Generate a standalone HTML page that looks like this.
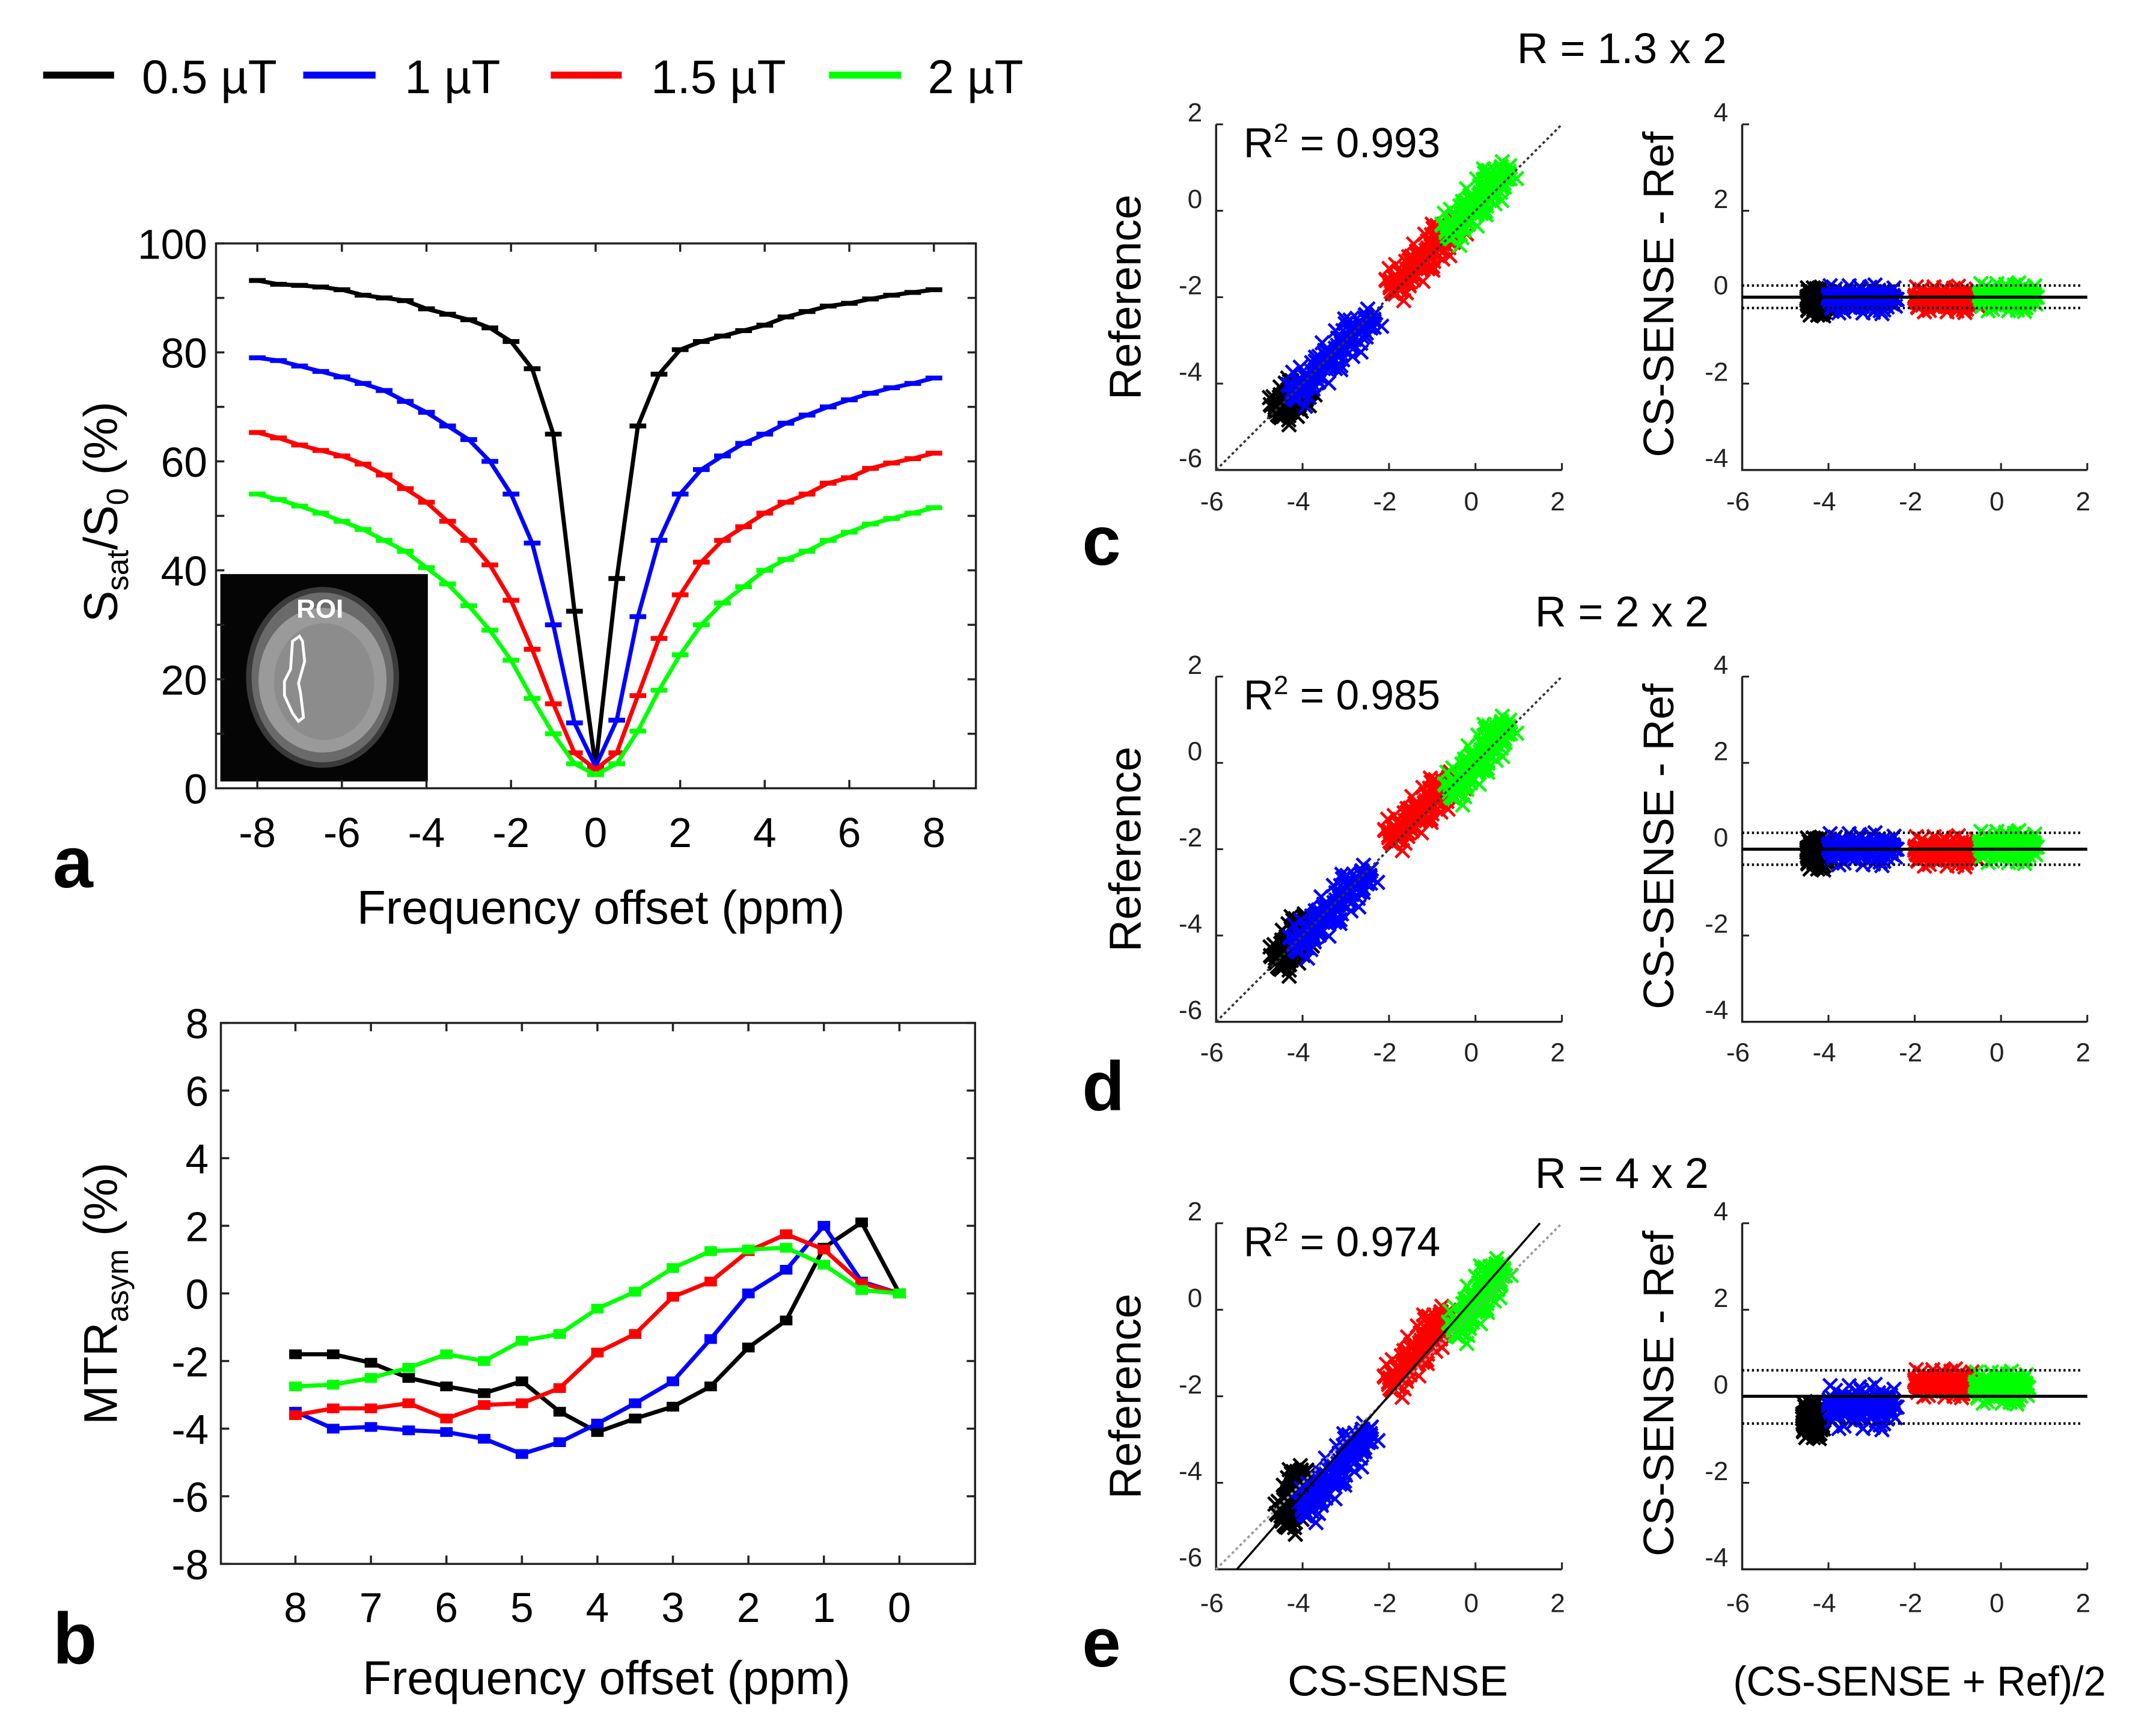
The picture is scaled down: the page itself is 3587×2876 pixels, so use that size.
<!DOCTYPE html>
<html><head><meta charset="utf-8">
<style>
html,body{margin:0;padding:0;background:#fff;}
svg{display:block;}
text{font-family:"Liberation Sans",sans-serif;fill:#000;}
.tk{font-size:30px;}
.sm{font-size:19px;fill:#222;}
</style></head>
<body>
<svg id="fig" xmlns="http://www.w3.org/2000/svg" width="3587" height="2876" viewBox="0 0 1550 1243" preserveAspectRatio="none">
<g id="legend">
  <line x1="31" y1="54" x2="82" y2="54" stroke="#000" stroke-width="5"/>
  <text x="102" y="67" font-size="34">0.5 µT</text>
  <line x1="218" y1="54" x2="270" y2="54" stroke="#0000ff" stroke-width="5"/>
  <text x="291" y="67" font-size="34">1 µT</text>
  <line x1="396" y1="54" x2="447" y2="54" stroke="#ff0000" stroke-width="5"/>
  <text x="468" y="67" font-size="34">1.5 µT</text>
  <line x1="596" y1="54" x2="648" y2="54" stroke="#00ff00" stroke-width="5"/>
  <text x="667" y="67" font-size="34">2 µT</text>
</g>
<g id="pa"></g>
<g id="pb"></g>
<g id="pc"></g>
<g id="pd"></g>
<g id="pe"></g>
</svg>
<script>
// ---------- Panel a data ----------
const offsetsA = [-8,-7.5,-7,-6.5,-6,-5.5,-5,-4.5,-4,-3.5,-3,-2.5,-2,-1.5,-1,-0.5,0,0.5,1,1.5,2,2.5,3,3.5,4,4.5,5,5.5,6,6.5,7,7.5,8];
const zBlack = [93.2,92.5,92.3,92,91.5,90.5,90,89.5,88,87,86,84.5,82,77,65,32.5,4,38.5,66.5,76,80.5,82,83,84,85,86.5,87.5,88.5,89,89.8,90.5,91,91.5];
const zBlue  = [79,78.5,77.5,76.5,75.5,74.3,73,71,69,66.5,64,60,54,45,30,12,4,12.5,31.5,45.5,54,58.5,61,63.3,65,67,68.5,70,71.3,72.5,73.5,74.3,75.3];
const zRed   = [65.3,64.3,63,62,61,59.5,57.5,55,52.5,49,45.5,41,34.5,25.5,15.5,6.5,3.5,6.5,17,27.5,35.5,41.5,45.5,48,50.5,52.5,54,56,57,58.7,59.7,60.5,61.5];
const zGreen = [54,53,51.8,50.5,49,47.5,45.5,43.5,40.5,37.5,33.5,29,23.5,16.5,10,4.5,2.5,4.5,10.5,18,24.5,30,34,37,40,42,43.5,45.5,47,48.5,49.5,50.5,51.5];
const aXTicks = [-8,-6,-4,-2,0,2,4,6,8];
const aYTicks = [0,20,40,60,80,100];
// ---------- Panel b data ----------
const offsetsB = [8,7.5,7,6.5,6,5.5,5,4.5,4,3.5,3,2.5,2,1.5,1,0.5,0];
const mBlack = [-1.8,-1.8,-2.05,-2.5,-2.75,-2.95,-2.6,-3.5,-4.1,-3.7,-3.35,-2.75,-1.6,-0.8,1.35,2.1,0];
const mBlue  = [-3.5,-4.0,-3.95,-4.05,-4.1,-4.3,-4.75,-4.4,-3.85,-3.25,-2.6,-1.35,0,0.7,2.0,0.35,0];
const mRed   = [-3.6,-3.4,-3.4,-3.25,-3.7,-3.3,-3.25,-2.8,-1.75,-1.2,-0.1,0.35,1.25,1.75,1.3,0.3,0];
const mGreen = [-2.75,-2.7,-2.5,-2.2,-1.8,-2.0,-1.4,-1.2,-0.45,0.05,0.75,1.25,1.3,1.35,0.85,0.1,0];
const bXTicks = [8,7,6,5,4,3,2,1,0];
const bYTicks = [-8,-6,-4,-2,0,2,4,6,8];
// ---------- Panels c-e data ----------
const clusterColors = ['#000000','#0000ff','#ff0000','#00ff00'];
const scatC = [[-4.6,-4.7,-3.9,-4.0],[-4.25,-4.3,-2.3,-2.35],[-1.97,-1.85,-0.35,-0.23],[-0.67,-0.57,0.8,1.05]];
const scatD = [[-4.6,-4.7,-3.8,-3.6],[-4.2,-4.3,-2.4,-2.45],[-2.0,-1.8,-0.4,-0.3],[-0.6,-0.75,0.8,1.0]];
const scatE = [[-4.45,-4.95,-3.9,-3.7],[-4.0,-4.7,-2.4,-2.7],[-2.0,-1.8,-0.6,0.0],[-0.5,-0.55,0.66,1.1]];
const baC = [[-4.5,-4.0,-0.1,0.35],[-4.0,-2.4,-0.05,0.35],[-2.0,-0.5,-0.05,0.32],[-0.5,0.85,0.0,0.35]];
const baD = [[-4.5,-4.0,-0.1,0.4],[-4.0,-2.4,0.0,0.4],[-2.0,-0.5,-0.05,0.38],[-0.5,0.85,0.05,0.4]];
const baE = [[-4.6,-4.1,-0.55,0.45],[-4.0,-2.4,-0.25,0.55],[-2.0,-0.6,0.3,0.35],[-0.6,0.65,0.2,0.4]];
const baLinesC = [0.0, 0.27, -0.25];
const baLinesD = [0.0, 0.38, -0.36];
const baLinesE = [0.0, 0.6, -0.63];
const r2Values = ['0.993','0.985','0.974'];
const titles = ['R = 1.3 x 2','R = 2 x 2','R = 4 x 2'];
const fitE = [[-5.52,-6],[1.49,2]];
const jitterU = [-1,-0.9,-0.8,-0.75,-0.6,-0.55,-0.4,-0.35,-0.2,-0.15,0,0.05,0.2,0.25,0.4,0.45,0.6,0.65,0.8,0.85,0.95,-0.95,-0.7,-0.45,-0.25,-0.05,0.15,0.35,0.55,0.75,-0.65,-0.3,0.1,0.5,0.9,-0.85,-0.5,0.3,0.7,-0.1];
const jitterV = [0.2,-0.6,0.7,-0.2,0.4,-0.8,0.9,0,-0.5,0.6,-0.9,0.3,0.8,-0.4,-0.1,0.6,-0.7,0.2,0.5,-0.3,0,0.9,-0.9,0.2,-0.6,0.7,-0.2,0.95,-0.95,0.4,0.45,-0.45,0.05,-0.75,0.75,-0.3,0.3,-0.85,-0.5,0.85];
const jitterPasses = [[0,1],[0.04,-0.6],[-0.03,0.35]];

const NS='http://www.w3.org/2000/svg';
function mk(parent,tag,attrs,txt){const e=document.createElementNS(NS,tag);for(const k in attrs)e.setAttribute(k,attrs[k]);if(txt!==undefined)e.textContent=txt;parent.appendChild(e);return e;}

// ================= Panel a =================
(function(){
  const g=document.getElementById('pa');
  const L=155.3,R=701.6,T=175,B=566.7;
  const ax=v=>185+(v+8)*(671.4-185)/16;
  const ay=v=>B-v*(B-T)/100;
  const ins=mk(g,'g',{});
  
  
  mk(ins,'rect',{x:158.4,y:412.7,width:149.2,height:149.1,fill:'#050505'});
  mk(ins,'ellipse',{cx:231.9,cy:487,rx:55,ry:65,fill:'#3a3a3a'});
  mk(ins,'ellipse',{cx:231.9,cy:487,rx:51,ry:61,fill:'#6a6a6a'});
  mk(ins,'ellipse',{cx:231.9,cy:489,rx:46,ry:52,fill:'#9a9a9a'});
  mk(ins,'ellipse',{cx:233,cy:490,rx:36,ry:42,fill:'#8c8c8c'});
  mk(ins,'path',{d:'M215.3,457.4 L210.3,461 L208.9,481.1 L204.5,489.8 L204.5,499.9 L210.3,512.8 L214.6,518.6 L218.2,515.7 L216.1,498.4 L214.6,491.2 L219,475.4 L217.5,461 Z',fill:'none',stroke:'#fff','stroke-width':2});
  const roi=mk(ins,'text',{x:230,y:444,'font-size':19,'font-weight':'bold','text-anchor':'middle',style:'fill:#fff'},'ROI');
  
  
  const fr=mk(g,'rect',{x:L,y:T,width:R-L,height:B-T,fill:'none',stroke:'#222','stroke-width':1.5});
  
  
  aXTicks.forEach(v=>{
    mk(g,'line',{x1:ax(v),y1:B,x2:ax(v),y2:B-6,stroke:'#222','stroke-width':1.5});
    mk(g,'line',{x1:ax(v),y1:T,x2:ax(v),y2:T+6,stroke:'#222','stroke-width':1.5});
    const t=mk(g,'text',{x:ax(v),y:609,class:'tk','text-anchor':'middle'},String(v));
    
    
  });
  for(let v=0;v<=100;v+=10){
    mk(g,'line',{x1:L,y1:ay(v),x2:L+6,y2:ay(v),stroke:'#222','stroke-width':1.5});
    mk(g,'line',{x1:R,y1:ay(v),x2:R-6,y2:ay(v),stroke:'#222','stroke-width':1.5});
  }
  aYTicks.forEach(v=>{
    const t=mk(g,'text',{x:149,y:ay(v)+11,class:'tk','text-anchor':'end'},String(v));
    
    
  });
  const series=[[zBlack,'#000'],[zBlue,'#0000ff'],[zRed,'#ff0000'],[zGreen,'#00ff00']];
  const names=['series-0-5ut','series-1ut','series-1-5ut','series-2ut'];
  series.forEach((s,i)=>{
    const pts=offsetsA.map((x,j)=>ax(x)+','+ay(s[0][j])).join(' ');
    const pl=mk(g,'polyline',{points:pts,fill:'none',stroke:s[1],'stroke-width':3});
    
    
    offsetsA.forEach((x,j)=>{
      const c=mk(g,'line',{x1:ax(x)-6,y1:ay(s[0][j]),x2:ax(x)+6,y2:ay(s[0][j]),stroke:s[1],'stroke-width':3.5});
      
      
    });
  });
  const yl=mk(g,'text',{transform:'translate(84,368) rotate(-90)','font-size':34,'text-anchor':'middle'});
  
  
  mk(yl,'tspan',{},'S');
  mk(yl,'tspan',{dy:8,'font-size':22},'sat');
  mk(yl,'tspan',{dy:-8},'/S');
  mk(yl,'tspan',{dy:8,'font-size':22},'0');
  mk(yl,'tspan',{dy:-8},' (%)');
  const xl=mk(g,'text',{x:432,y:664,'font-size':34,'text-anchor':'middle'},'Frequency offset (ppm)');
  
  
  const la=mk(g,'text',{x:38,y:638,'font-size':52,'font-weight':'bold'},'a');
  
  
})();

// ================= Panel b =================
(function(){
  const g=document.getElementById('pb');
  const L=158.8,R=701,T=735.4,B=1124.3;
  const bx=v=>646.6-v*(646.6-212.4)/8;
  const by=v=>(T+B)/2-v*(B-T)/16;
  const fr=mk(g,'rect',{x:L,y:T,width:R-L,height:B-T,fill:'none',stroke:'#222','stroke-width':1.5});
  
  
  bXTicks.forEach(v=>{
    mk(g,'line',{x1:bx(v),y1:B,x2:bx(v),y2:B-6,stroke:'#222','stroke-width':1.5});
    mk(g,'line',{x1:bx(v),y1:T,x2:bx(v),y2:T+6,stroke:'#222','stroke-width':1.5});
    const t=mk(g,'text',{x:bx(v),y:1166,class:'tk','text-anchor':'middle'},String(v));
    
    
  });
  bYTicks.forEach(v=>{
    mk(g,'line',{x1:L,y1:by(v),x2:L+6,y2:by(v),stroke:'#222','stroke-width':1.5});
    mk(g,'line',{x1:R,y1:by(v),x2:R-6,y2:by(v),stroke:'#222','stroke-width':1.5});
    const t=mk(g,'text',{x:150,y:by(v)+11,class:'tk','text-anchor':'end'},String(v));
    
    
  });
  const series=[[mBlack,'#000'],[mBlue,'#0000ff'],[mRed,'#ff0000'],[mGreen,'#00ff00']];
  const names=['series-0-5ut','series-1ut','series-1-5ut','series-2ut'];
  series.forEach((s,i)=>{
    const pts=offsetsB.map((x,j)=>bx(x)+','+by(s[0][j])).join(' ');
    const pl=mk(g,'polyline',{points:pts,fill:'none',stroke:s[1],'stroke-width':3});
    
    
    offsetsB.forEach((x,j)=>{
      const m=mk(g,'rect',{x:bx(x)-4.5,y:by(s[0][j])-3.5,width:9,height:7,fill:s[1]});
      
      
    });
  });
  const yl=mk(g,'text',{transform:'translate(84,930) rotate(-90)','font-size':34,'text-anchor':'middle'});
  
  
  mk(yl,'tspan',{},'MTR');
  mk(yl,'tspan',{dy:8,'font-size':22},'asym');
  mk(yl,'tspan',{dy:-8},'  (%)');
  const xl=mk(g,'text',{x:436,y:1218,'font-size':34,'text-anchor':'middle'},'Frequency offset (ppm)');
  
  
  const lb=mk(g,'text',{x:38,y:1196,'font-size':52,'font-weight':'bold'},'b');
  
  
})();

// ================= Panels c-e =================
function drawX(g,x,y,col){
  const s=5;
  const p=mk(g,'path',{d:`M${x-s},${y-s}L${x+s},${y+s}M${x-s},${y+s}L${x+s},${y-s}`,stroke:col,'stroke-width':2,fill:'none'});
  
  
}
function panel(id,T,B,titleY,labY,letterY,letter,scat,ba,baLines,idx,fit){
  const g=document.getElementById(id);
  const L1=874.3,R1=1122.9,L2=1252.5,R2=1500.6;
  const sx=v=>L1+(v+6)*(R1-L1)/8;
  const sy=v=>T+(2-v)*(B-T)/8;
  const rx=v=>L2+(v+6)*(R2-L2)/8;
  const ry=v=>T+(4-v)*(B-T)/8;
  const tt=mk(g,'text',{x:1166,y:titleY+11,'font-size':31,'text-anchor':'middle'},titles[idx]);
  
  
  const ax1=mk(g,'path',{d:`M${L1},${T}V${B}H${R1}`,fill:'none',stroke:'#222','stroke-width':1.5});
  
  
  const ax2=mk(g,'path',{d:`M${L2},${T}V${B}H${R2}`,fill:'none',stroke:'#222','stroke-width':1.5});
  
  
  [-6,-4,-2,0,2].forEach(v=>{
    mk(g,'line',{x1:sx(v),y1:B,x2:sx(v),y2:B-5,stroke:'#222','stroke-width':1.3});
    mk(g,'line',{x1:rx(v),y1:B,x2:rx(v),y2:B-5,stroke:'#222','stroke-width':1.3});
    const a=mk(g,'text',{x:sx(v)-3,y:labY+7,class:'sm','text-anchor':'middle'},String(v));
    
    
    const b=mk(g,'text',{x:rx(v)-3,y:labY+7,class:'sm','text-anchor':'middle'},String(v));
    
    
    mk(g,'line',{x1:L1,y1:sy(v),x2:L1+5,y2:sy(v),stroke:'#222','stroke-width':1.3});
    const c=mk(g,'text',{x:L1-10,y:sy(v)-2,class:'sm','text-anchor':'end'},String(v));
    
    
  });
  [-4,-2,0,2,4].forEach(v=>{
    mk(g,'line',{x1:L2,y1:ry(v),x2:L2+5,y2:ry(v),stroke:'#222','stroke-width':1.3});
    const c=mk(g,'text',{x:L2-10,y:ry(v)-2,class:'sm','text-anchor':'end'},String(v));
    
    
  });
  scat.forEach((c,ci)=>{
    const cx=(c[0]+c[2])/2, cy=(c[1]+c[3])/2, hx=(c[2]-c[0])/2, hy=(c[3]-c[1])/2;
    jitterPasses.forEach(ps=>{
      jitterU.forEach((u,k)=>{
        const uu=Math.max(-1,Math.min(1,u+ps[0]));
        const v=jitterV[k]*ps[1]*0.3;
        drawX(g,sx(cx+uu*hx+v),sy(cy+uu*hy-v),clusterColors[ci]);
      });
    });
  });
  const id1=mk(g,'line',{x1:sx(-6),y1:sy(-6),x2:sx(2),y2:sy(2),stroke:fit?'#999':'#333','stroke-width':1.6,'stroke-dasharray':'2,2'});
  
  
  if(fit){
    const fl=mk(g,'line',{x1:sx(fit[0][0]),y1:sy(fit[0][1]),x2:sx(fit[1][0]),y2:sy(fit[1][1]),stroke:'#000','stroke-width':1.5});
    
    
  }
  const r2=mk(g,'text',{x:894,y:113,'font-size':30});
  r2.setAttribute('transform',`translate(0,${T-89.4})`);
  
  
  mk(r2,'tspan',{},'R');
  mk(r2,'tspan',{dy:-11,'font-size':19},'2');
  mk(r2,'tspan',{dy:11},' = '+r2Values[idx]);
  ba.forEach((c,ci)=>{
    const cx=(c[0]+c[1])/2, hx=(c[1]-c[0])/2;
    jitterPasses.forEach(ps=>{
      jitterU.forEach((u,k)=>{
        const uu=Math.max(-1,Math.min(1,u+ps[0]));
        drawX(g,rx(cx+uu*hx),ry(c[2]+jitterV[k]*ps[1]*c[3]),clusterColors[ci]);
      });
    });
  });
  const ml=mk(g,'line',{x1:L2,y1:ry(baLines[0]),x2:R2,y2:ry(baLines[0]),stroke:'#000','stroke-width':2.2});
  
  
  [1,2].forEach(k=>{
    const d=mk(g,'line',{x1:L2,y1:ry(baLines[k]),x2:R2-4,y2:ry(baLines[k]),stroke:'#000','stroke-width':1.8,'stroke-dasharray':'1.5,2'});
    
    
  });
  const mid=(T+B)/2;
  const yr=mk(g,'text',{transform:`translate(820,${mid}) rotate(-90)`,'font-size':32,'text-anchor':'middle'},'Reference');
  
  
  const yd=mk(g,'text',{transform:`translate(1203,${mid-2}) rotate(-90)`,'font-size':31,'text-anchor':'middle'},'CS-SENSE - Ref');
  
  
  const lt=mk(g,'text',{x:778,y:letterY+17,'font-size':50,'font-weight':'bold'},letter);
  
  
}
panel('pc',89.4,337.9,34.4,360,389,'c',scatC,baC,baLinesC,0,null);
panel('pd',486.4,734.6,439.3,756,781,'d',scatD,baD,baLinesD,1,null);
panel('pe',879.4,1128.2,843,1152,1181,'e',scatE,baE,baLinesE,2,fitE);
(function(){
  const svg=document.getElementById('fig');
  const a=mk(svg,'text',{x:1005,y:1219,'font-size':31,'text-anchor':'middle'},'CS-SENSE');
  
  
  const b=mk(svg,'text',{x:1380,y:1219,'font-size':30,'text-anchor':'middle',textLength:268,lengthAdjust:'spacingAndGlyphs'},'(CS-SENSE + Ref)/2');
  
  
})();
</script>
</body></html>
